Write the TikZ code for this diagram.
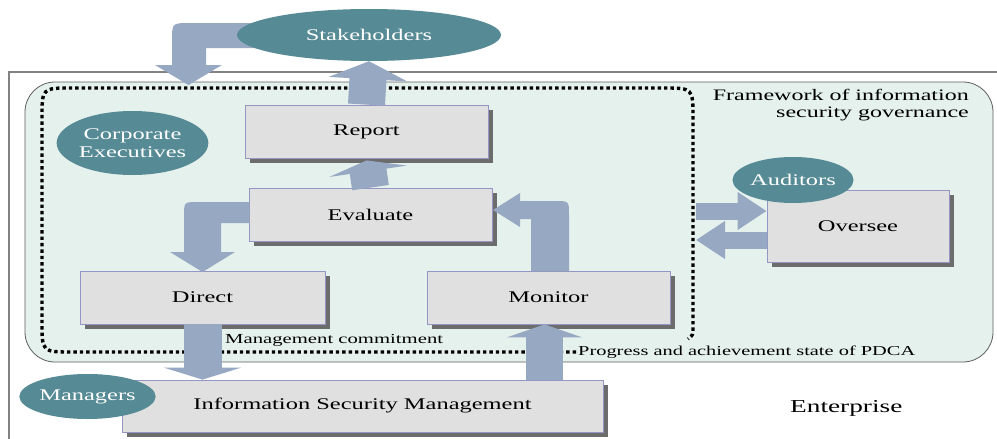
\documentclass[tikz,border=0pt]{standalone}
\usepackage{fontspec}
\setmainfont{Liberation Serif}[FakeStretch=1.5]
\usetikzlibrary{shapes.geometric,shadows,arrows.meta}
\definecolor{tealc}{RGB}{86,139,149}
\definecolor{arrowc}{RGB}{150,168,194}
\definecolor{boxfill}{RGB}{224,224,224}
\definecolor{boxline}{RGB}{150,150,196}
\definecolor{shadowc}{RGB}{108,108,108}
\definecolor{framefill}{RGB}{229,241,236}
\definecolor{frameline}{RGB}{95,95,95}
\definecolor{entline}{RGB}{130,130,130}
\begin{document}
\begin{tikzpicture}[x=1pt,y=-1pt,
  stepbox/.style={rectangle, fill=boxfill, draw=boxline, line width=0.8pt, inner sep=0pt,
    drop shadow={shadow xshift=5pt, shadow yshift=-5pt, fill=shadowc, opacity=1},
    font=\fontsize{16.3}{19}\selectfont},
  actor/.style={ellipse, fill=tealc, text=white, inner sep=0pt, align=center,
    font=\fontsize{16.3}{18}\selectfont},
  blockfill/.style={fill=arrowc, draw=none},
  barrow/.style={draw=arrowc, line width=#1},
  lbl/.style={inner sep=0pt, text=black}
]
\useasboundingbox (0,0) rectangle (997,439);
\fill[white] (0,0) rectangle (997,439);
% Enterprise boundary
\draw[entline, line width=1.4pt] (1010,72) -- (9,72) -- (9,450);
% Framework area
\draw[frameline, fill=framefill, line width=0.8pt, rounded corners=30pt] (25,82) rectangle (993,362);
% Management commitment dotted boundary
\draw[black, line width=3.4pt, dash pattern=on 3.4pt off 3pt]
  (576,352) -- (72,352) .. controls (42,352) .. (42,322) -- (42,118)
  .. controls (42,88) .. (72,88) -- (663,88) .. controls (693,88) .. (693,118)
  -- (693,328) .. controls (693,335) .. (688,339);

% Stakeholders bent arrow
\fill[blockfill] (262,23) -- (190,23) .. controls (172,23) .. (172,41) -- (172,65) -- (155,65)
  -- (188.5,85) -- (222,65) -- (206,65) -- (206,48) -- (262,48) -- cycle;

% Nodes
\node[actor, minimum width=264pt, minimum height=52pt] (stake) at (369,35) {Stakeholders};
\node[actor, minimum width=131pt, minimum height=64pt] (corp) at (132.5,143) {Corporate\\Executives};
\node[stepbox, minimum width=243pt, minimum height=53pt] (report) at (366.5,131.5) {Report};
\node[stepbox, minimum width=243pt, minimum height=53pt] (evaluate) at (370.5,214.5) {Evaluate};
\node[stepbox, minimum width=245pt, minimum height=53pt] (direct) at (202.5,297.5) {Direct};
\node[stepbox, minimum width=243pt, minimum height=53pt] (monitor) at (548.5,297.5) {Monitor};
\node[stepbox, minimum width=481pt, minimum height=52pt] (ism) at (362.5,406) {Information Security Management};
\node[stepbox, minimum width=182pt, minimum height=72pt] (oversee) at (858,226) {Oversee};
\node[actor, minimum width=108pt, minimum height=46pt] (auditors) at (793,180) {Auditors};
\node[actor, minimum width=125pt, minimum height=45pt] (managers) at (87.5,396.5) {Managers};

% Bent arrows
\fill[blockfill] (249.5,202) -- (198,202) .. controls (184,202) .. (184,216) -- (184,252) -- (170,252)
  -- (202.5,272) -- (235,252) -- (221,252) -- (221,223) -- (249.5,223) -- cycle;
\fill[blockfill] (531,271) -- (531,219) -- (520,219) -- (520,227) -- (493,210) -- (520,193)
  -- (520,201) -- (555,201) .. controls (569,201) .. (569,215) -- (569,271) -- cycle;

% Straight block arrows
\draw[barrow=37pt, -{Triangle[length=18pt,width=78pt]}] (report.north) -- (stake.south);
\draw[barrow=37pt, -{Triangle[length=11pt,width=78pt]}] (evaluate.north) -- ([yshift=-2pt]report.south);
\draw[barrow=38pt, -{Triangle[length=12pt,width=77pt]}] (direct.south) -- (direct.south |- ism.north);
\draw[barrow=37pt, -{Triangle[length=13pt,width=75pt]}] ([xshift=-4pt]monitor.south |- ism.north) -- ([xshift=-4pt]monitor.south);
\coordinate (audR) at (696,211);
\coordinate (audL) at (696,240);
\draw[barrow=17pt, -{Triangle[length=29pt,width=36pt]}] (audR) -- (audR -| oversee.west);
\draw[barrow=17pt, -{Triangle[length=29pt,width=36pt]}] (audL -| oversee.west) -- (audL);

% Labels
\node[lbl, anchor=north east, align=right, font=\fontsize{16}{17}\selectfont] (fwtitle) at (969,89)
  {Framework of information\\security governance};
\node[lbl, anchor=base west, font=\fontsize{13.8}{16}\selectfont] (mc) at (225,343) {Management commitment};
\node[lbl, anchor=base west, font=\fontsize{13.6}{16}\selectfont] (pdca) at (578,355) {Progress and achievement state of PDCA};
\node[lbl, anchor=base west, font=\fontsize{18.2}{20}\selectfont] (ent) at (790,412) {Enterprise};
\end{tikzpicture}
\end{document}
